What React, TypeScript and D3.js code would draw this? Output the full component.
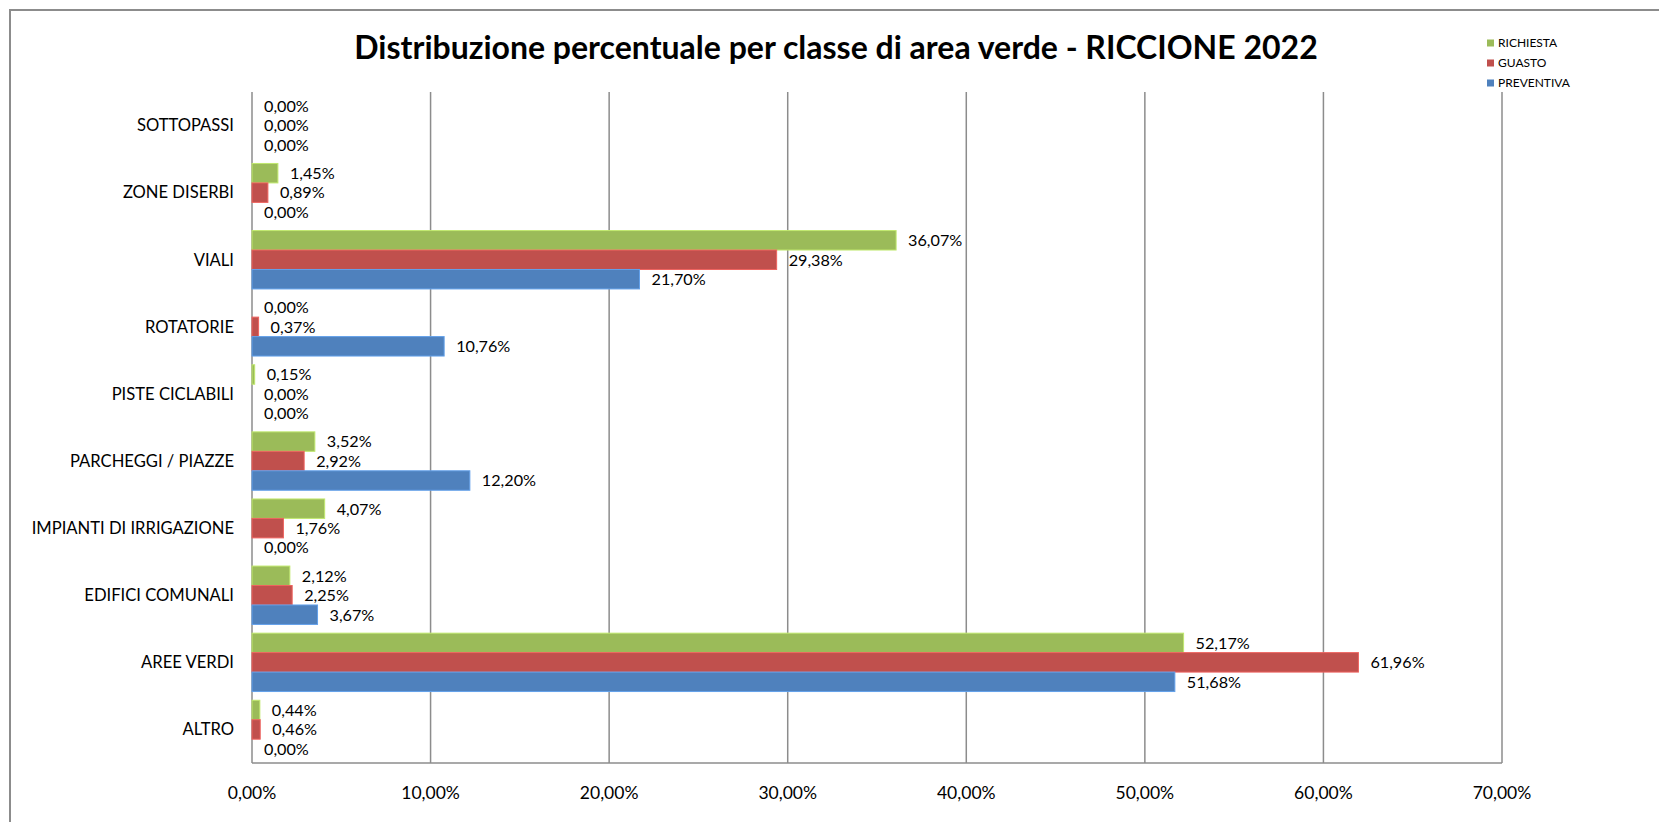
import React, { useEffect, useRef } from "react";
import * as d3 from "d3";

const categories = [
  "SOTTOPASSI",
  "ZONE DISERBI",
  "VIALI",
  "ROTATORIE",
  "PISTE CICLABILI",
  "PARCHEGGI / PIAZZE",
  "IMPIANTI DI IRRIGAZIONE",
  "EDIFICI COMUNALI",
  "AREE VERDI",
  "ALTRO",
];

const richiesta = [0, 1.45, 36.07, 0, 0.15, 3.52, 4.07, 2.12, 52.17, 0.44];
const guasto = [0, 0.89, 29.38, 0.37, 0, 2.92, 1.76, 2.25, 61.96, 0.46];
const preventiva = [0, 0, 21.7, 10.76, 0, 12.2, 0, 3.67, 51.68, 0];

const seriesNames = ["RICHIESTA", "GUASTO", "PREVENTIVA"];
const xTicks = [0, 10, 20, 30, 40, 50, 60, 70];

const colors = ["#9BBB59", "#C0504D", "#4F81BD"];
const FONT = "Lato, 'Open Sans', sans-serif";

const fmt = (v: number) => v.toFixed(2).replace(".", ",") + "%";

export default function App() {
  const svgRef = useRef<SVGSVGElement | null>(null);

  useEffect(() => {
    const W = 1659;
    const H = 822;
    const svg = d3.select(svgRef.current);
    svg.selectAll("*").remove();
    svg.attr("width", W).attr("height", H);

    svg.append("rect").attr("width", W).attr("height", H).attr("fill", "#fff");

    // cornice esterna
    svg
      .append("rect")
      .attr("x", 10)
      .attr("y", 10)
      .attr("width", W + 20)
      .attr("height", H + 20)
      .attr("fill", "none")
      .attr("stroke", "#8c8c8c")
      .attr("stroke-width", 2);

    const plot = { left: 252, right: 1502, top: 92, bottom: 763 };

    const x = d3.scaleLinear().domain([0, 70]).range([plot.left, plot.right]);
    const y = d3
      .scaleBand()
      .domain(categories)
      .range([plot.top, plot.bottom])
      .paddingInner(0.13)
      .paddingOuter(0.065);
    const inner = d3
      .scaleBand()
      .domain(seriesNames)
      .range([0, y.bandwidth()]);

    // griglia verticale
    svg
      .append("g")
      .selectAll("line")
      .data(xTicks)
      .enter()
      .append("line")
      .attr("x1", (d) => x(d))
      .attr("x2", (d) => x(d))
      .attr("y1", plot.top)
      .attr("y2", plot.bottom)
      .attr("stroke", "#8c8c8c")
      .attr("stroke-width", 1.5);

    svg
      .append("line")
      .attr("x1", plot.left)
      .attr("x2", plot.right)
      .attr("y1", plot.bottom)
      .attr("y2", plot.bottom)
      .attr("stroke", "#8c8c8c")
      .attr("stroke-width", 1.5);

    // etichette asse x
    svg
      .append("g")
      .selectAll("text")
      .data(xTicks)
      .enter()
      .append("text")
      .attr("x", (d) => x(d))
      .attr("y", 799)
      .attr("text-anchor", "middle")
      .attr("font-family", FONT)
      .attr("font-size", 17.5)
      .attr("fill", "#000")
      .text((d) => d.toFixed(2).replace(".", ",") + "%");

    // etichette categorie
    svg
      .append("g")
      .selectAll("text")
      .data(categories)
      .enter()
      .append("text")
      .attr("x", 234)
      .attr("y", (d) => (y(d) as number) + y.bandwidth() / 2)
      .attr("dy", "0.35em")
      .attr("text-anchor", "end")
      .attr("font-family", FONT)
      .attr("font-size", 16.6)
      .attr("fill", "#000")
      .text((d) => d);

    const allSeries = [richiesta, guasto, preventiva];

    allSeries.forEach((values, si) => {
      const rows = categories.map((c, i) => ({ c, v: values[i] }));
      const g = svg.append("g");

      g.selectAll("rect")
        .data(rows)
        .enter()
        .append("rect")
        .attr("x", x(0))
        .attr("y", (d) => (y(d.c) as number) + (inner(seriesNames[si]) as number))
        .attr("width", (d) => x(d.v) - x(0))
        .attr("height", inner.bandwidth())
        .attr("fill", colors[si])
        .attr("stroke", (d) => (d.v > 0 ? d3.color(colors[si])!.brighter(0.6).toString() : "none"))
        .attr("stroke-width", 1);

      g.selectAll("text")
        .data(rows)
        .enter()
        .append("text")
        .attr("x", (d) => x(d.v) + 12)
        .attr("y", (d) => (y(d.c) as number) + (inner(seriesNames[si]) as number) + inner.bandwidth() / 2)
        .attr("dy", "0.36em")
        .attr("font-family", FONT)
        .attr("font-size", 16.2)
        .attr("fill", "#000")
        .text((d) => fmt(d.v));
    });

    // titolo
    svg
      .append("text")
      .attr("x", 836)
      .attr("y", 59)
      .attr("text-anchor", "middle")
      .attr("font-family", FONT)
      .attr("font-weight", "bold")
      .attr("font-size", 32)
      .attr("fill", "#000")
      .text("Distribuzione percentuale per classe di area verde - RICCIONE 2022");

    // legenda
    const legend = svg
      .append("g")
      .selectAll("g")
      .data(seriesNames)
      .enter()
      .append("g")
      .attr("transform", (d, i) => `translate(1487,${43 + i * 20})`);

    legend
      .append("rect")
      .attr("x", 0)
      .attr("y", -3.5)
      .attr("width", 7)
      .attr("height", 7)
      .attr("fill", (d, i) => colors[i]);

    legend
      .append("text")
      .attr("x", 11)
      .attr("y", 0)
      .attr("dy", "0.35em")
      .attr("font-family", FONT)
      .attr("font-size", 12)
      .attr("fill", "#000")
      .text((d) => d);
  }, []);

  return (
    <div style={{ position: "absolute", left: 0, top: 0 }}>
      <svg ref={svgRef} style={{ display: "block" }} />
    </div>
  );
}
